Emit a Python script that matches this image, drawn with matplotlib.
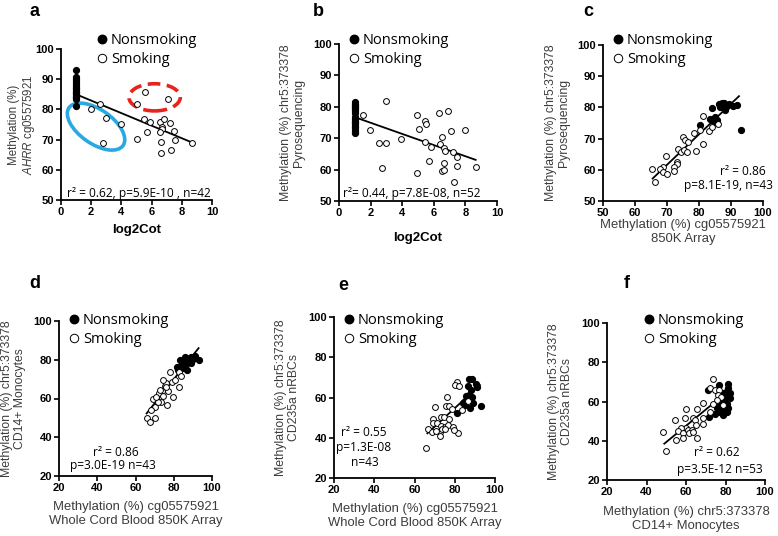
import matplotlib
matplotlib.use("Agg")
import matplotlib.pyplot as plt
from matplotlib.patches import Ellipse
from matplotlib.ticker import MultipleLocator

plt.rcParams['font.family'] = ['Liberation Sans', 'DejaVu Sans']
plt.rcParams['mathtext.fontset'] = 'custom'
plt.rcParams['mathtext.it'] = 'Liberation Sans:italic'
plt.rcParams['mathtext.rm'] = 'Liberation Sans'

W, H = 778, 536
GRAY = '#3c3c3c'
NOTE_FONT = ['Open Sans', 'DejaVu Sans']

# ---- panel a : AHRR cg05575921 vs log2Cot
a_non_x = [1] * 18
a_non_y = [93.0, 90.8, 90.0, 89.3, 88.6, 88.0, 87.4, 86.8, 86.2, 85.8, 85.4, 85.0, 84.6, 84.2, 83.8, 83.5, 87.0, 81.1]
a_smk_x = [2.0, 2.6, 3.0, 2.8, 4.0, 5.0, 5.55, 7.1, 5.0, 5.5, 5.9, 6.55, 6.8, 7.2, 6.7, 6.7, 6.55, 5.7,
           7.5, 7.55, 6.65, 6.65, 7.3, 8.7]
a_smk_y = [80.0, 81.7, 77.1, 68.8, 75.2, 81.7, 85.7, 83.6, 70.1, 76.8, 75.7, 75.7, 76.7, 75.6, 74.2, 73.6, 72.6, 72.6,
           72.7, 69.9, 69.3, 65.5, 66.6, 69.0]
a_fit_x = [1.0, 8.7]
a_fit_y = [85.0, 69.0]

# ---- panel b : chr5:373378 pyrosequencing vs log2Cot
b_non_x = [1] * 21
b_non_y = [81.6, 81.0, 80.4, 79.8, 79.2, 78.6, 78.0, 76.8, 76.2, 75.6, 75.0, 74.4, 73.8, 73.2, 72.6, 72.0, 71.6,
           80.7, 79.5, 75.3, 73.5]
b_smk_x = [1.55, 2.95, 1.95, 2.55, 2.95, 2.75, 3.95, 4.95, 5.45, 5.5, 5.05, 6.3, 6.9, 5.45, 5.85, 6.4, 6.5, 6.65,
           6.7, 7.1, 7.95, 7.2, 7.45, 5.7, 6.65, 7.45, 8.65, 4.95, 6.55, 6.62, 7.25]
b_smk_y = [77.5, 81.7, 72.5, 68.4, 68.4, 60.4, 69.6, 77.3, 75.4, 74.6, 72.8, 77.9, 78.6, 68.8, 67.1, 68.3, 70.4, 66.8,
           65.9, 72.3, 72.7, 65.7, 64.0, 62.8, 62.2, 61.0, 60.8, 58.9, 59.6, 59.8, 56.1]
b_fit_x = [1.0, 8.65]
b_fit_y = [76.7, 63.1]

# ---- panel c : pyrosequencing vs 850K array
c_non_x = [86.4, 87.1, 87.9, 88.6, 87.3, 86.5, 89.5, 90.5, 88.1, 91.8, 93.0, 84.9, 84.2, 80.4, 83.4, 84.7, 85.6]
c_non_y = [81.0, 81.5, 81.3, 80.6, 80.0, 80.0, 81.0, 80.4, 79.3, 80.8, 72.9, 77.0, 79.7, 74.3, 76.4, 75.4, 76.0]
c_smk_x = [81.2, 86.0, 80.3, 83.0, 81.2, 78.5, 75.1, 75.6, 76.7, 73.5, 74.4, 75.3, 76.2, 79.1, 69.7, 73.2, 73.0,
           72.3, 72.3, 68.8, 67.9, 68.8, 69.9, 65.4, 66.4, 84.0]
c_smk_y = [77.2, 74.6, 72.7, 72.3, 68.4, 71.9, 70.6, 69.7, 69.0, 66.8, 65.7, 66.3, 65.7, 66.1, 64.3, 62.5, 61.8,
           60.9, 59.6, 60.9, 60.1, 59.3, 58.8, 60.1, 56.1, 73.8]
c_fit_x = [65.5, 92.5]
c_fit_y = [57.2, 83.6]

# ---- panel d : CD14+ monocytes vs whole cord blood
d_non_x = [81.8, 82.2, 84.3, 85.7, 86.6, 87.1, 88.0, 88.3, 89.2, 90.0, 90.9, 93.0, 84.8, 83.1, 89.2, 86.0]
d_non_y = [76.4, 74.7, 77.6, 79.5, 77.8, 74.7, 78.8, 80.7, 81.2, 80.2, 81.9, 79.8, 75.5, 79.8, 78.4, 81.2]
d_smk_x = [78.2, 82.7, 84.0, 78.9, 75.6, 73.8, 72.3, 70.5, 69.1, 77.0, 82.7, 79.6, 74.4, 73.1, 76.6, 70.0, 68.3,
           66.2, 70.0, 67.4, 71.7, 80.5, 76.1, 70.9, 74.4, 72.6, 75.7]
d_smk_y = [73.8, 73.8, 71.6, 68.3, 66.4, 63.8, 62.6, 60.0, 60.0, 64.0, 65.7, 60.9, 61.2, 58.3, 56.9, 55.7, 54.0,
           50.0, 49.7, 47.9, 58.3, 69.5, 67.8, 60.9, 69.5, 64.3, 66.0]
d_fit_x = [65.8, 93.0]
d_fit_y = [52.3, 86.0]

# ---- panel e : CD235a nRBCs vs whole cord blood
e_non_x = [87.1, 88.4, 86.4, 90.5, 91.2, 87.9, 85.4, 87.1, 88.4, 85.9, 84.3, 85.1, 87.6, 93.0, 81.3, 88.9, 84.8]
e_non_y = [69.0, 69.0, 65.7, 66.7, 65.4, 63.7, 60.8, 61.2, 60.4, 59.1, 57.1, 56.3, 54.6, 55.8, 52.5, 57.1, 58.0]
e_smk_x = [81.3, 80.1, 82.3, 76.0, 75.6, 77.1, 70.2, 83.4, 86.7, 78.5, 69.4, 69.4, 73.0, 74.8, 77.3, 71.3, 73.2,
           75.3, 76.8, 79.3, 66.9, 68.9, 72.7, 73.5, 75.2, 81.8, 72.7, 70.5, 65.7, 79.6]
e_smk_y = [67.9, 66.2, 65.7, 60.4, 56.0, 56.0, 55.4, 53.8, 58.3, 54.1, 49.2, 47.5, 50.5, 50.5, 49.2, 47.2, 45.8,
           45.2, 46.3, 45.5, 44.2, 43.0, 43.0, 44.2, 44.2, 42.5, 40.9, 43.4, 35.1, 43.9]
e_fit_x = [66.4, 92.5]
e_fit_y = [42.2, 66.2]

# ---- panel f : CD235a nRBCs vs CD14+ monocytes
f_non_x = [71.3, 76.7, 81.4, 81.1, 80.3, 82.3, 78.1, 79.7, 80.9, 77.7, 76.4, 78.9, 81.4, 77.2, 80.6, 74.7, 78.9,
           71.8, 80.9, 79.7, 75.5, 82.3]
f_non_y = [66.0, 68.4, 68.7, 66.7, 65.0, 64.2, 64.2, 62.0, 60.8, 59.9, 57.4, 56.5, 56.9, 54.8, 54.8, 53.5, 53.1,
           52.3, 58.5, 59.1, 56.5, 61.6]
f_smk_x = [73.5, 72.2, 74.7, 76.9, 76.4, 77.5, 68.8, 75.5, 60.0, 65.4, 73.5, 78.9, 72.2, 54.4, 59.7, 63.7, 64.5,
           68.8, 68.8, 65.1, 60.0, 57.3, 56.1, 58.3, 61.2, 62.9, 61.7, 63.7, 65.4, 58.6, 54.8, 48.2, 49.7]
f_smk_y = [71.5, 66.7, 65.9, 65.9, 63.3, 62.5, 59.1, 60.8, 56.2, 56.0, 58.5, 58.2, 54.8, 50.6, 51.8, 51.4, 50.6,
           51.8, 48.4, 48.0, 46.7, 46.3, 45.0, 43.8, 45.5, 45.5, 43.8, 44.6, 41.6, 41.2, 40.4, 44.3, 34.8]
f_fit_x = [49.0, 78.0]
f_fit_y = [38.5, 62.5]

xlab_cord = 'Methylation (%) cg05575921\nWhole Cord Blood 850K Array'

fig = plt.figure(figsize=(W / 100, H / 100), dpi=100)


def fx(px):
    return px / W


def fy(py):
    return 1 - py / H


def panel(box, nx, ny, sx, sy, fit_x, fit_y, lim_x, lim_y, step_x, step_y,
          xlabel, ylabel, letter, letter_xy, leg_xy, notes, xlab_y, ylab_x, bold_x=False, ylab_size=8.8):
    x0, y0, x1, y1 = box
    ax = fig.add_axes([fx(x0), fy(y1), (x1 - x0) / W, (y1 - y0) / H])
    ax.plot(fit_x, fit_y, color='black', lw=1.3, zorder=2)
    ax.plot(nx, ny, 'o', ms=4.2, color='black', mec='black', label='Nonsmoking', zorder=3)
    ax.plot(sx, sy, 'o', ms=4.2, mfc='white', mec='black', mew=0.7, label='Smoking', zorder=3)
    ax.set_xlim(*lim_x)
    ax.set_ylim(*lim_y)
    ax.xaxis.set_major_locator(MultipleLocator(step_x))
    ax.yaxis.set_major_locator(MultipleLocator(step_y))
    for s in ['top', 'right']:
        ax.spines[s].set_visible(False)
    for s in ['left', 'bottom']:
        ax.spines[s].set_linewidth(1.3)
    ax.tick_params(length=3.5, width=1.2, pad=1.5, labelsize=8)
    for t in ax.get_xticklabels() + ax.get_yticklabels():
        t.set_fontweight('bold')
    if bold_x:
        ax.set_xlabel(xlabel, fontsize=9.5, fontweight='bold', color='black')
    else:
        ax.set_xlabel(xlabel, fontsize=9.4, color=GRAY, linespacing=1.2)
    ax.xaxis.set_label_coords(0.5, xlab_y)
    ax.set_ylabel(ylabel, fontsize=ylab_size, color=GRAY, linespacing=1.1)
    ax.yaxis.set_label_coords(ylab_x, 0.5)
    ax.legend(loc='upper left', bbox_to_anchor=(fx(leg_xy[0]), fy(leg_xy[1])),
              bbox_transform=fig.transFigure, frameon=False, borderpad=0, borderaxespad=0,
              handlelength=0.7, handletextpad=0.25, labelspacing=0.28, markerscale=1.45,
              prop={'family': NOTE_FONT, 'size': 10.5})
    fig.text(fx(letter_xy[0]), fy(letter_xy[1]), letter, fontsize=13, fontweight='bold',
             ha='center', va='center')
    for txt, px, py in notes:
        fig.text(fx(px), fy(py), txt, fontsize=8.6, family=NOTE_FONT, ha='center', va='center')
    return ax


ax_a = panel((61, 49, 212, 200), a_non_x, a_non_y, a_smk_x, a_smk_y, a_fit_x, a_fit_y,
             (0, 10), (50, 100), 2, 10, 'log2Cot', 'Methylation (%)\n$\\it{AHRR}$ cg05575921',
             'a', (35, 11), (97, 33), [('r² = 0.62, p=5.9E-10 , n=42', 139, 194)], -0.16, -0.16,
             bold_x=True, ylab_size=8.3)
# highlight ellipses
ax_a.add_patch(Ellipse((0.232, 0.486), 0.437, 0.225, angle=-35, transform=ax_a.transAxes,
                       fill=False, ec='#29a9e1', lw=2.6, zorder=1))
ax_a.add_patch(Ellipse((0.62, 0.68), 0.34, 0.18, angle=0, transform=ax_a.transAxes,
                       fill=False, ec='#e8221c', lw=2.6, ls=(0, (3.5, 1.8)), zorder=1))

panel((339, 44, 497, 201), b_non_x, b_non_y, b_smk_x, b_smk_y, b_fit_x, b_fit_y,
      (0, 10), (50, 100), 2, 10, 'log2Cot', 'Methylation (%) chr5:373378\nPyrosequencing',
      'b', (318, 11), (349, 33), [('r²= 0.44, p=7.8E-08, n=52', 412, 194)], -0.2, -0.215, bold_x=True)

panel((603, 45, 763, 201), c_non_x, c_non_y, c_smk_x, c_smk_y, c_fit_x, c_fit_y,
      (50, 100), (50, 100), 10, 10, 'Methylation (%) cg05575921\n850K Array',
      'Methylation (%) chr5:373378\nPyrosequencing',
      'c', (588, 11), (613, 33), [('r² = 0.86', 743, 172), ('p=8.1E-19, n=43', 728, 185)], -0.115, -0.206)

panel((59, 321, 212, 476), d_non_x, d_non_y, d_smk_x, d_smk_y, d_fit_x, d_fit_y,
      (20, 100), (20, 100), 20, 20, xlab_cord, 'Methylation (%) chr5:373378\nCD14+ Monocytes',
      'd', (35, 283), (69, 313), [('r² = 0.86', 116, 452), ('p=3.0E-19 n=43', 113, 465)], -0.161, -0.216)

panel((334, 317, 495, 478), e_non_x, e_non_y, e_smk_x, e_smk_y, e_fit_x, e_fit_y,
      (20, 100), (20, 100), 20, 20, xlab_cord, 'Methylation (%) chr5:373378\nCD235a nRBCs',
      'e', (343, 285), (344, 313),
      [('r² = 0.55', 364, 433), ('p=1.3E-08', 364, 448), ('n=43', 365, 463)], -0.155, -0.211)

panel((607, 323, 765, 480), f_non_x, f_non_y, f_smk_x, f_smk_y, f_fit_x, f_fit_y,
      (20, 100), (20, 100), 20, 20, 'Methylation (%) chr5:373378\nCD14+ Monocytes',
      'Methylation (%) chr5:373378\nCD235a nRBCs',
      'f', (627, 283), (644, 313), [('r² = 0.62', 717, 453), ('p=3.5E-12 n=53', 720, 470)], -0.166, -0.215)

fig.savefig('out.png', dpi=100)
